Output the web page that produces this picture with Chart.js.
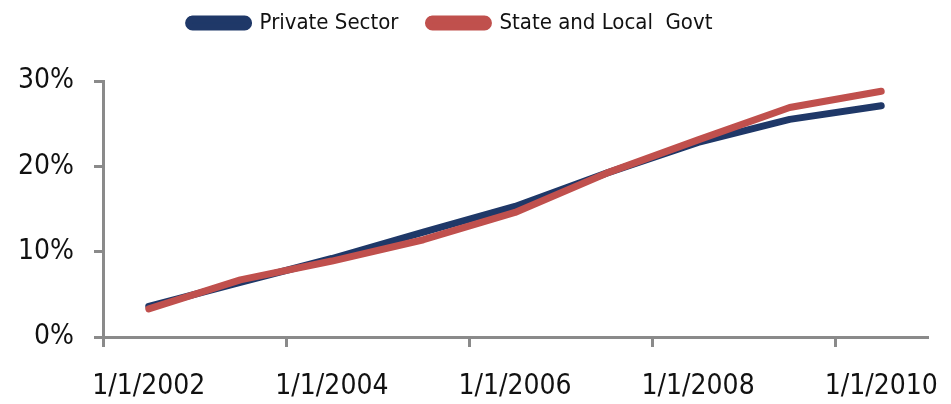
<!DOCTYPE html>
<html>
<head>
<meta charset="utf-8">
<script src="https://cdn.jsdelivr.net/npm/chart.js@4"></script>
<style>
  body { margin: 0; background: #fff; }
</style>
</head>
<body>
<canvas id="chart" width="951" height="404"></canvas>
<script>
// data
const years = ['1/1/2002', '1/1/2003', '1/1/2004', '1/1/2005', '1/1/2006', '1/1/2007', '1/1/2008', '1/1/2009', '1/1/2010'];
const privateSector = [3.6, 6.4, 9.2, 12.3, 15.3, 19.2, 22.8, 25.5, 27.1];
const stateLocal = [3.3, 6.7, 8.9, 11.4, 14.6, 19.2, 23.1, 26.9, 28.8];
const yTicks = [0, 10, 20, 30];

const AXIS = '#8a8a8a';
const FONT = "'DejaVu Sans Condensed', 'Liberation Sans Narrow', sans-serif";

// tick marks only on every other category boundary, none at the right end
const everyOther = (c) => (c.index % 2 === 0 && c.index < years.length) ? AXIS : 'rgba(0,0,0,0)';

// push the plot down below the legend
const legendGap = {
  id: 'legendGap',
  afterInit(chart) {
    const fit = chart.legend.fit;
    chart.legend.fit = function () { fit.call(this); this.height += 37; };
  }
};

new Chart(document.getElementById('chart'), {
  type: 'line',
  data: {
    labels: years,
    datasets: [
      {
        label: 'Private Sector',
        data: privateSector,
        borderColor: '#1f3868',
        backgroundColor: '#1f3868',
        order: 1
      },
      {
        label: 'State and Local  Govt',
        data: stateLocal,
        borderColor: '#c0504d',
        backgroundColor: '#c0504d',
        order: 0
      }
    ]
  },
  plugins: [legendGap],
  options: {
    responsive: false,
    animation: false,
    layout: { padding: { top: -18, right: 24, bottom: 0, left: -26 } },
    elements: {
      line: { borderWidth: 7, tension: 0, borderCapStyle: 'round', borderJoinStyle: 'round' },
      point: { radius: 0, hoverRadius: 0 }
    },
    plugins: {
      tooltip: { enabled: false },
      legend: {
        position: 'top',
        labels: {
          sort: (a, b) => a.datasetIndex - b.datasetIndex,
          boxWidth: 60,
          boxHeight: 8,
          useBorderRadius: true,
          borderRadius: 4,
          padding: 30,
          color: '#111',
          font: { family: FONT, size: 22 }
        }
      }
    },
    scales: {
      x: {
        offset: true,
        afterFit: (s) => { s.height = 67; s.paddingLeft = 0; s.paddingRight = 0; },
        grid: {
          offset: true,
          drawOnChartArea: false,
          drawTicks: true,
          tickLength: 10,
          lineWidth: 3,
          color: everyOther,
          tickColor: everyOther
        },
        border: { display: true, color: AXIS, width: 3 },
        ticks: {
          autoSkip: false,
          maxRotation: 0,
          padding: 23,
          color: '#111',
          font: { family: FONT, size: 28 },
          callback: function (v, i) { return i % 2 === 0 ? this.getLabelForValue(v) : ''; }
        }
      },
      y: {
        min: 0,
        max: 30,
        afterFit: (s) => { s.width = 129; },
        afterBuildTicks: (s) => { s.ticks = yTicks.map(v => ({ value: v })); },
        grid: {
          drawOnChartArea: false,
          drawTicks: true,
          tickLength: 9,
          lineWidth: 3,
          color: AXIS,
          tickColor: AXIS
        },
        border: { display: true, color: AXIS, width: 3 },
        ticks: {
          padding: 20,
          color: '#111',
          font: { family: FONT, size: 28 },
          callback: (v) => v + '%'
        }
      }
    }
  }
});
</script>
</body>
</html>
